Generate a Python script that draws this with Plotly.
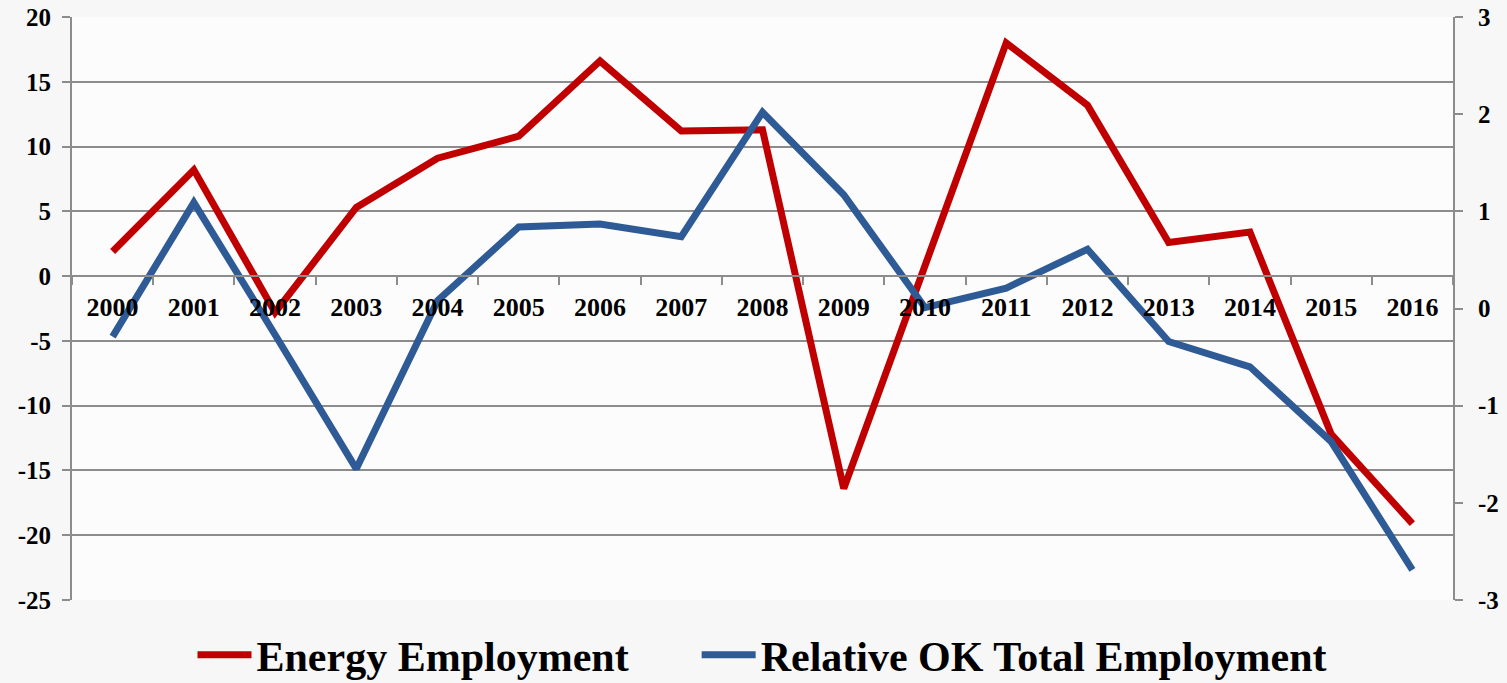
import plotly.graph_objects as go

years = [str(y) for y in range(2000, 2017)]
energy = [1.9, 8.2, -2.8, 5.3, 9.1, 10.8, 16.6, 11.2, 11.3, -16.4, 0.8, 18.0, 13.2, 2.6, 3.4, -12.2, -19.1]
relative_ok = [-0.29, 1.09, -0.27, -1.65, 0.08, 0.84, 0.87, 0.74, 2.02, 1.17, 0.01, 0.21, 0.61, -0.34, -0.60, -1.37, -2.69]
series_names = ["Energy Employment", "Relative OK Total Employment"]
left_ticks = [20, 15, 10, 5, 0, -5, -10, -15, -20, -25]
left_labels = ["20", "15", "10", "5", "0", "-5", "-10", "-15", "-20", "-25"]
right_ticks = [3, 2, 1, 0, -1, -2, -3]
right_labels = ["3", "2", "1", "0", "-1", "-2", "-3"]

FONT = "Liberation Serif, Times New Roman, serif"
GRID = "#8c8c8c"
PAD = "\u00a0" * 6

fig = go.Figure()
fig.add_trace(go.Scatter(x=years, y=energy, name=series_names[0] + PAD, mode="lines",
                         line=dict(color="#C00000", width=7), yaxis="y"))
fig.add_trace(go.Scatter(x=years, y=relative_ok, name=series_names[1], mode="lines",
                         line=dict(color="#2E5A96", width=7), yaxis="y2"))

fig.update_layout(
    width=1507, height=683,
    margin=dict(l=72, r=54, t=17, b=83, autoexpand=False),
    paper_bgcolor="#f7f7f7",
    plot_bgcolor="rgba(255,255,255,0.6)",
    font=dict(family=FONT, color="black"),
    xaxis=dict(
        type="category", anchor="free", position=25 / 45,
        range=[-0.5, len(years) - 0.5], autorange=False,
        showgrid=False, showline=True, linecolor=GRID, linewidth=2,
        ticks="outside", tickson="boundaries", ticklen=8, tickwidth=2, tickcolor=GRID,
        tickfont=dict(family=FONT, size=26, weight="bold", color="black"),
        ticklabelstandoff=8, zeroline=False, automargin=False,
    ),
    yaxis=dict(
        range=[-25, 20], tickmode="array", tickvals=left_ticks, ticktext=left_labels,
        showgrid=True, gridcolor=GRID, gridwidth=2,
        showline=True, linecolor=GRID, linewidth=2,
        ticks="outside", ticklen=8, tickwidth=2, tickcolor=GRID,
        tickfont=dict(family=FONT, size=25, weight="bold", color="black"),
        ticklabelstandoff=6, zeroline=False, automargin=False,
    ),
    yaxis2=dict(
        range=[-3, 3], tickmode="array", tickvals=right_ticks, ticktext=right_labels,
        overlaying="y", side="right",
        showgrid=False, showline=True, linecolor=GRID, linewidth=2,
        ticks="outside", ticklen=8, tickwidth=2, tickcolor=GRID,
        tickfont=dict(family=FONT, size=25, weight="bold", color="black"),
        ticklabelstandoff=10, zeroline=False, automargin=False,
    ),
    legend=dict(
        orientation="h", x=0.5, xanchor="center",
        yref="container", y=(683 - 655) / 683, yanchor="middle",
        font=dict(family=FONT, size=42, weight="bold", color="black"),
        bgcolor="rgba(0,0,0,0)", itemwidth=54,
    ),
    showlegend=True,
)

fig.write_html("out.html")
